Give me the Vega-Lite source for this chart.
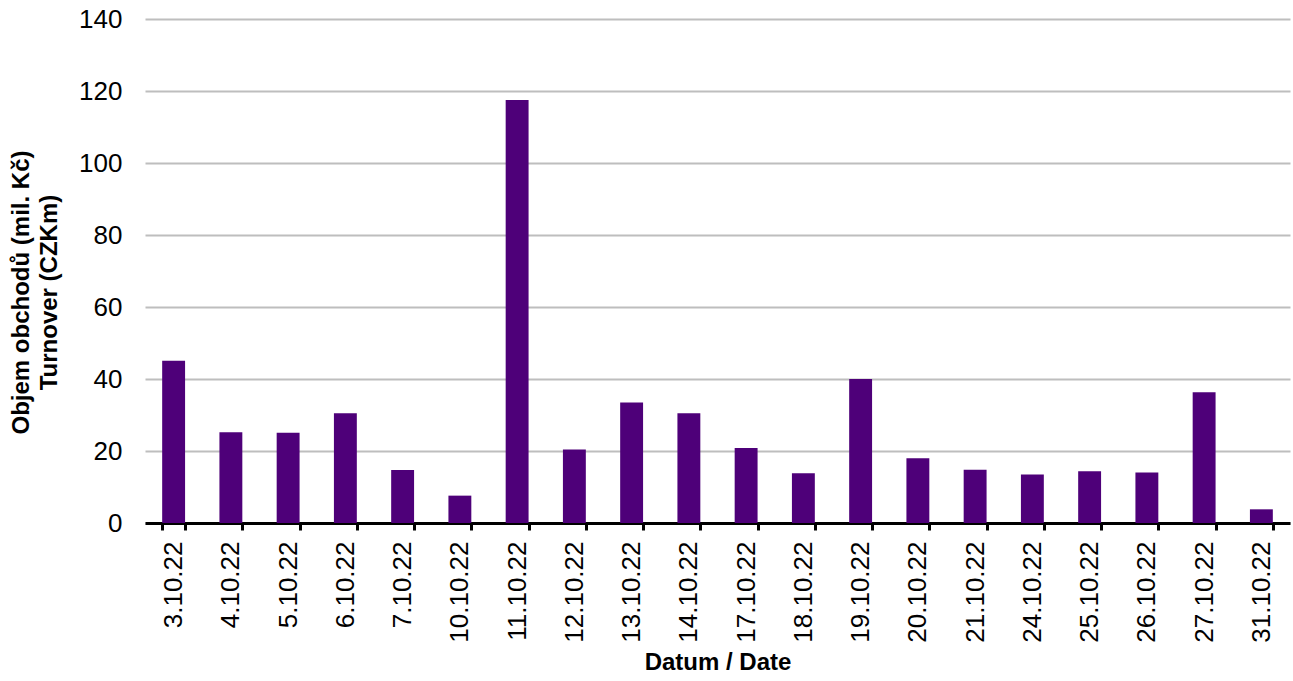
{
  "$schema": "https://vega.github.io/schema/vega-lite/v6.json",
  "autosize": "none",
  "width": 1145,
  "height": 504,
  "padding": {"left": 145, "top": 19, "right": 3, "bottom": 158},
  "background": "white",
  "config": {
    "view": {"stroke": null},
    "font": "Liberation Sans"
  },
  "data": {
    "values": [
      {"date": "3.10.22", "v": 45.1},
      {"date": "4.10.22", "v": 25.2},
      {"date": "5.10.22", "v": 25.1},
      {"date": "6.10.22", "v": 30.5},
      {"date": "7.10.22", "v": 14.7},
      {"date": "10.10.22", "v": 7.6},
      {"date": "11.10.22", "v": 117.5},
      {"date": "12.10.22", "v": 20.4},
      {"date": "13.10.22", "v": 33.5},
      {"date": "14.10.22", "v": 30.5},
      {"date": "17.10.22", "v": 20.8},
      {"date": "18.10.22", "v": 13.8},
      {"date": "19.10.22", "v": 40.0},
      {"date": "20.10.22", "v": 18.0},
      {"date": "21.10.22", "v": 14.8},
      {"date": "24.10.22", "v": 13.5},
      {"date": "25.10.22", "v": 14.4},
      {"date": "26.10.22", "v": 14.0},
      {"date": "27.10.22", "v": 36.3},
      {"date": "31.10.22", "v": 3.8}
    ]
  },
  "mark": {"type": "bar", "color": "#4E0079"},
  "encoding": {
    "x": {
      "field": "date",
      "type": "nominal",
      "sort": null,
      "scale": {"paddingInner": 0.6, "paddingOuter": 0.3},
      "axis": {
        "title": "Datum / Date",
        "titleFont": "Liberation Sans",
        "titleFontSize": 24,
        "titleFontWeight": "bold",
        "titleColor": "black",
        "titlePadding": 8,
        "labelAngle": -90,
        "labelAlign": "right",
        "labelBaseline": "middle",
        "labelFontSize": 26,
        "labelColor": "black",
        "labelPadding": 11,
        "domainColor": "black",
        "domainWidth": 3,
        "tickColor": "black",
        "tickWidth": 3,
        "tickSize": 7,
        "tickBand": "extent",
        "grid": false
      }
    },
    "y": {
      "field": "v",
      "type": "quantitative",
      "scale": {"domain": [0, 140]},
      "axis": {
        "title": ["Objem obchodů (mil. Kč)", "Turnover (CZKm)"],
        "titleFont": "Liberation Sans",
        "titleFontSize": 24,
        "titleFontWeight": "bold",
        "titleColor": "black",
        "titleLineHeight": 28,
        "titleY": 273,
        "titlePadding": 17,
        "values": [0, 20, 40, 60, 80, 100, 120, 140],
        "labelFontSize": 26,
        "labelColor": "black",
        "labelPadding": 23,
        "ticks": false,
        "domain": false,
        "grid": true,
        "gridColor": "#BEBEBE",
        "gridWidth": 2
      }
    }
  }
}
